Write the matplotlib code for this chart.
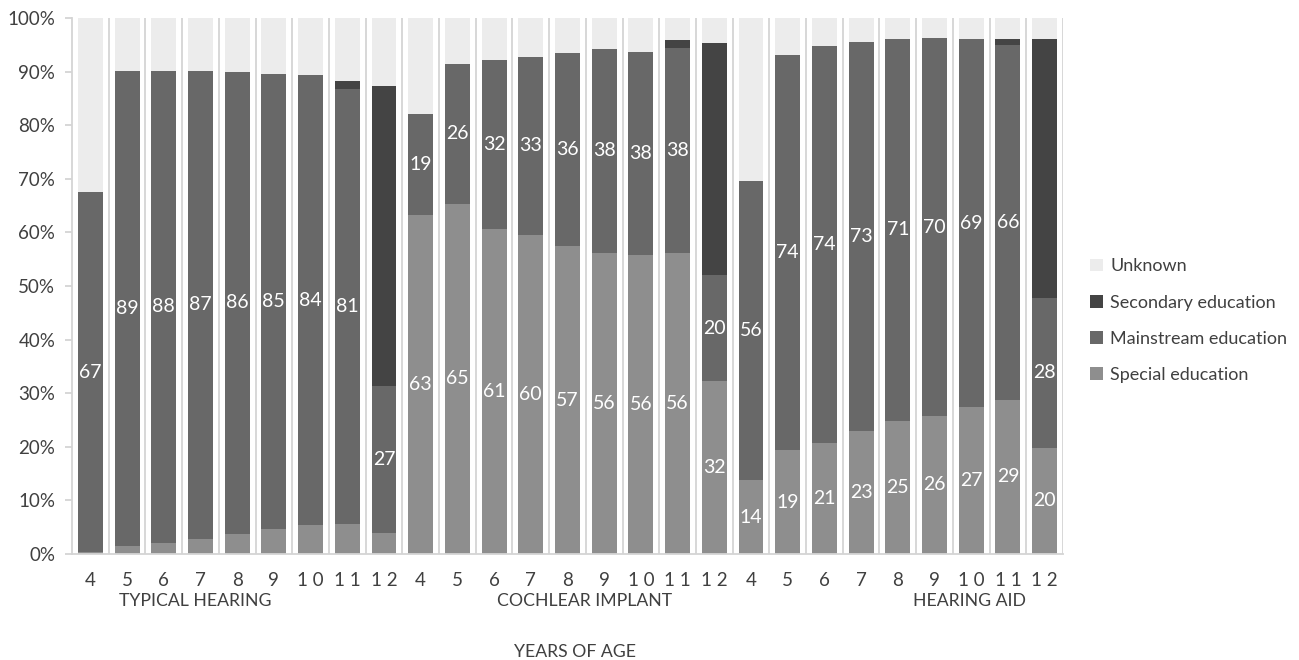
import matplotlib.pyplot as plt
import numpy as np

plt.rcParams['font.family'] = ['Lato', 'DejaVu Sans']

# categories
ages = ['4', '5', '6', '7', '8', '9', '1 0', '1 1', '1 2']
groups = ['TYPICAL HEARING', 'COCHLEAR IMPLANT', 'HEARING AID']

# percentages per bar (typical hearing, cochlear implant, hearing aid)
special = [0.3, 1.4, 2.1, 2.8, 3.8, 4.7, 5.4, 5.6, 4.0,
           63.2, 65.3, 60.6, 59.6, 57.4, 56.2, 55.8, 56.1, 32.3,
           13.8, 19.4, 20.7, 23.0, 24.9, 25.8, 27.4, 28.8, 19.8]
mainstream = [67.2, 88.8, 88.1, 87.4, 86.1, 84.9, 83.9, 81.2, 27.4,
              18.9, 26.2, 31.6, 33.2, 36.0, 38.1, 37.9, 38.3, 19.7,
              55.7, 73.7, 74.0, 72.6, 71.1, 70.4, 68.6, 66.2, 28.0]
secondary = [0, 0, 0, 0, 0, 0, 0, 1.5, 56.0,
             0, 0, 0, 0, 0, 0, 0, 1.5, 43.3,
             0, 0, 0, 0, 0, 0, 0, 1.0, 48.2]
unknown = [32.5, 9.8, 9.8, 9.8, 10.1, 10.4, 10.7, 11.7, 12.6,
           17.9, 8.5, 7.8, 7.2, 6.6, 5.7, 6.3, 4.1, 4.7,
           30.5, 6.9, 5.3, 4.4, 4.0, 3.8, 4.0, 4.0, 4.0]

series = [('Special education', special, '#8e8e8e', True),
          ('Mainstream education', mainstream, '#686868', True),
          ('Secondary education', secondary, '#444444', False),
          ('Unknown', unknown, '#ececec', False)]

txt = '#404040'
grid = '#d4d4d4'

fig = plt.figure(figsize=(12.99, 6.6), dpi=100)
ax = fig.add_axes([72 / 1299, 106 / 660, 991 / 1299, 536 / 660])

x = np.arange(len(special))
bottom = np.zeros(len(x))
handles = {}
for name, vals, col, labelled in series:
    vals = np.array(vals, dtype=float)
    b = ax.bar(x, vals, 0.68, bottom=bottom, color=col, zorder=2)
    handles[name] = b
    if labelled:
        for xi, v, b0 in zip(x, vals, bottom):
            if v >= 10:
                ax.text(xi, b0 + v / 2, f"{v:.0f}", ha='center', va='center',
                        color='white', fontsize=14, zorder=3)
    bottom += vals

# vertical separators between categories
for xb in np.arange(0.5, len(x), 1.0):
    ax.axvline(xb, color=grid, lw=1.3, zorder=1)

ax.set_xlim(-0.5, len(x) - 0.5)
ax.set_ylim(0, 100)
ax.set_yticks(np.arange(0, 101, 10))
ax.set_yticklabels([f"{v}%" for v in range(0, 101, 10)])
ax.tick_params(axis='y', colors=grid, labelcolor=txt, labelsize=13.5, length=5, width=1.3, pad=7)
ax.set_xticks(x)
ax.set_xticklabels(ages * 3)
ax.tick_params(axis='x', length=0, labelcolor=txt, labelsize=13.5, pad=13)
for s in ['top', 'right']:
    ax.spines[s].set_visible(False)
ax.spines['left'].set_color(grid)
ax.spines['bottom'].set_color(grid)
ax.spines['left'].set_linewidth(1.3)
ax.spines['bottom'].set_linewidth(1.3)

# group labels under the ages
for gx, g in zip([2.85, 13.46, 23.94], groups):
    ax.text(gx, -8.7, g, ha='center', va='center', fontsize=12.7, color=txt,
            clip_on=False)
ax.text(13.2, -18.2, 'YEARS OF AGE', ha='center', va='center', fontsize=12.7,
        color=txt, clip_on=False)

order = ['Unknown', 'Secondary education', 'Mainstream education', 'Special education']
fig.legend([handles[n] for n in order], order, loc='center left',
           bbox_to_anchor=(1074 / 1299, 0.514), frameon=False, fontsize=13,
           labelcolor=txt, handlelength=0.7, handleheight=0.7, handletextpad=0.4,
           labelspacing=1.12)

fig.savefig('out.png', dpi=100)
